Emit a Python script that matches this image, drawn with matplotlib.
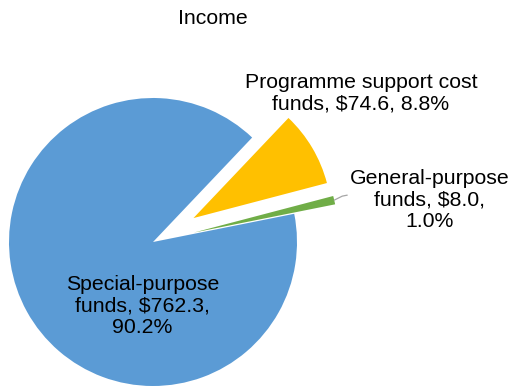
import matplotlib
matplotlib.use("Agg")
import matplotlib.pyplot as plt
import numpy as np

# Data
categories = ["General-purpose funds", "Programme support cost funds", "Special-purpose funds"]
values = [8.0, 74.6, 762.3]
label_texts = ["General-purpose\nfunds, $8.0,\n1.0%",
               "Programme support cost\nfunds, $74.6, 8.8%",
               "Special-purpose\nfunds, $762.3,\n90.2%"]
title = "Income"

# Style / layout
colors = ["#70AD47", "#FFC000", "#5B9BD5"]
W, H = 513, 387
fig = plt.figure(figsize=(W / 100, H / 100), dpi=100)
ax = fig.add_axes([0, 0, 1, 1])

plt.rcParams["font.family"] = ["Liberation Sans", "DejaVu Sans"]
fs = 15.3

cx, cy, r = 153, H - 242, 144
wedges, _ = ax.pie(values, colors=colors, startangle=11.3, counterclock=True,
                   explode=[42, 47, 0], radius=r, center=(cx, cy),
                   wedgeprops=dict(linewidth=0), frame=True)
wedges[1].set_radius(138)
ax.set_xlim(0, W)
ax.set_ylim(0, H)
ax.set_aspect("equal")
ax.axis("off")

label_pos = [(430, H - 200), (361, H - 93.5), (142.5, H - 306)]
for txt, (x, y) in zip(label_texts, label_pos):
    ax.text(x, y, txt, ha="center", va="center", fontsize=fs,
            linespacing=1.17, color="#000000")

# Leader line for the small slice
g = wedges[0]
thm = np.deg2rad((g.theta1 + g.theta2) / 2)
gx, gy = g.center
p0 = (gx + r * np.cos(thm), gy + r * np.sin(thm))
ax.plot([p0[0], p0[0] + 8, p0[0] + 13], [p0[1], p0[1] + 4, p0[1] + 5],
        color="#A6A6A6", lw=0.9, solid_capstyle="round")

ax.text(213, H - 18, title, ha="center", va="center", fontsize=fs, color="#000000")

fig.savefig("out.png", dpi=100)
